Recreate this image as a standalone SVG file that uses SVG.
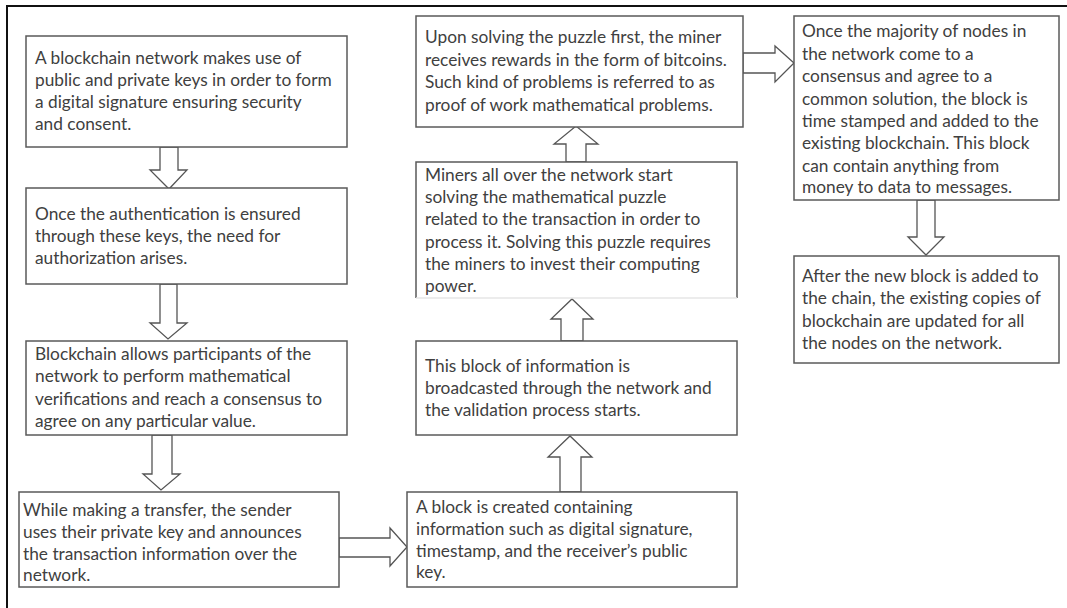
<svg xmlns="http://www.w3.org/2000/svg" width="1067" height="608" viewBox="0 0 1067 608">
<style>
.box{fill:#fff;stroke:#5a5a5a;stroke-width:1.5}
.arr{fill:#fff;stroke:#555;stroke-width:1.3;stroke-linejoin:miter}
.t{font-family:Lato,"Liberation Sans",sans-serif;font-size:17.3px;fill:#404040}
</style>
<rect width="1067" height="608" fill="#fff"/>
<path d="M7,608 V6 H1067" fill="none" stroke="#111" stroke-width="2"/>
<g id="connectors">
<polygon class="arr" points="160,147 178,147 178,170 187,170 169,189 150,170 160,170"/>
<polygon class="arr" points="160,284 177,284 177,323 187,323 168,339 150,323 160,323"/>
<polygon class="arr" points="152,435 172,435 172,474 180,474 161,490 143,474 152,474"/>
<polygon class="arr" points="339,538 390,538 390,528 407,547 390,566 390,557 339,557"/>
<polygon class="arr" points="560,492 560,457 548,457 570,436 592,457 581,457 581,492"/>
<polygon class="arr" points="561,341 561,319 551,319 572,299 593,319 583,319 583,341"/>
<polygon class="arr" points="566,162 566,144 554,144 576,126 598,144 586,144 586,162"/>
<polygon class="arr" points="743,53 775,53 775,46 794,63 775,82 775,73 743,73"/>
<polygon class="arr" points="917,200 935,200 935,237 944,237 926,255 908,237 917,237"/>
</g>
<g id="n1">
<rect class="box" x="26" y="36" width="321" height="111"/>
<text class="t"><tspan x="35" y="64">A blockchain network makes use of</tspan><tspan x="35" y="86">public and private keys in order to form</tspan><tspan x="35" y="108">a digital signature ensuring security</tspan><tspan x="35" y="130">and consent.</tspan></text>
</g>
<g id="n2">
<rect class="box" x="26" y="188" width="321" height="96"/>
<text class="t"><tspan x="35" y="220">Once the authentication is ensured</tspan><tspan x="35" y="242">through these keys, the need for</tspan><tspan x="35" y="264">authorization arises.</tspan></text>
</g>
<g id="n3">
<rect class="box" x="26" y="341" width="321" height="94"/>
<text class="t"><tspan x="35" y="360">Blockchain allows participants of the</tspan><tspan x="35" y="382">network to perform mathematical</tspan><tspan x="35" y="405">verifications and reach a consensus to</tspan><tspan x="35" y="427">agree on any particular value.</tspan></text>
</g>
<g id="n4">
<rect class="box" x="19" y="492" width="320" height="95"/>
<text class="t"><tspan x="23" y="516">While making a transfer, the sender</tspan><tspan x="23" y="538">uses their private key and announces</tspan><tspan x="23" y="560">the transaction information over the</tspan><tspan x="23" y="581">network.</tspan></text>
</g>
<g id="n5">
<rect class="box" x="407" y="492" width="330" height="95"/>
<text class="t"><tspan x="416" y="513">A block is created containing</tspan><tspan x="416" y="535">information such as digital signature,</tspan><tspan x="416" y="557">timestamp, and the receiver’s public</tspan><tspan x="416" y="578">key.</tspan></text>
</g>
<g id="n6">
<rect class="box" x="416" y="341" width="321" height="94"/>
<text class="t"><tspan x="425" y="372">This block of information is</tspan><tspan x="425" y="394">broadcasted through the network and</tspan><tspan x="425" y="416">the validation process starts.</tspan></text>
</g>
<g id="n7">
<rect x="416" y="162" width="321" height="136" fill="#fff"/>
<path d="M416,298 V162 H737 V298" fill="none" stroke="#5a5a5a" stroke-width="1.5"/>
<path d="M416,298 H737" fill="none" stroke="#e6e6e6" stroke-width="1.5"/>
<text class="t"><tspan x="425" y="181">Miners all over the network start</tspan><tspan x="425" y="203">solving the mathematical puzzle</tspan><tspan x="425" y="225">related to the transaction in order to</tspan><tspan x="425" y="248">process it. Solving this puzzle requires</tspan><tspan x="425" y="270">the miners to invest their computing</tspan><tspan x="425" y="292">power.</tspan></text>
</g>
<g id="n8">
<rect class="box" x="416" y="16" width="327" height="111"/>
<text class="t"><tspan x="425" y="43">Upon solving the puzzle first, the miner</tspan><tspan x="425" y="66">receives rewards in the form of bitcoins.</tspan><tspan x="425" y="88">Such kind of problems is referred to as</tspan><tspan x="425" y="111">proof of work mathematical problems.</tspan></text>
</g>
<g id="n9">
<rect class="box" x="794" y="16" width="265" height="184"/>
<text class="t"><tspan x="802" y="37">Once the majority of nodes in</tspan><tspan x="802" y="60">the network come to a</tspan><tspan x="802" y="82">consensus and agree to a</tspan><tspan x="802" y="105">common solution, the block is</tspan><tspan x="802" y="127">time stamped and added to the</tspan><tspan x="802" y="149">existing blockchain. This block</tspan><tspan x="802" y="172">can contain anything from</tspan><tspan x="802" y="193">money to data to messages.</tspan></text>
</g>
<g id="n10">
<rect class="box" x="794" y="256" width="265" height="107"/>
<text class="t"><tspan x="802" y="282">After the new block is added to</tspan><tspan x="802" y="304">the chain, the existing copies of</tspan><tspan x="802" y="327">blockchain are updated for all</tspan><tspan x="802" y="349">the nodes on the network.</tspan></text>
</g>
</svg>
